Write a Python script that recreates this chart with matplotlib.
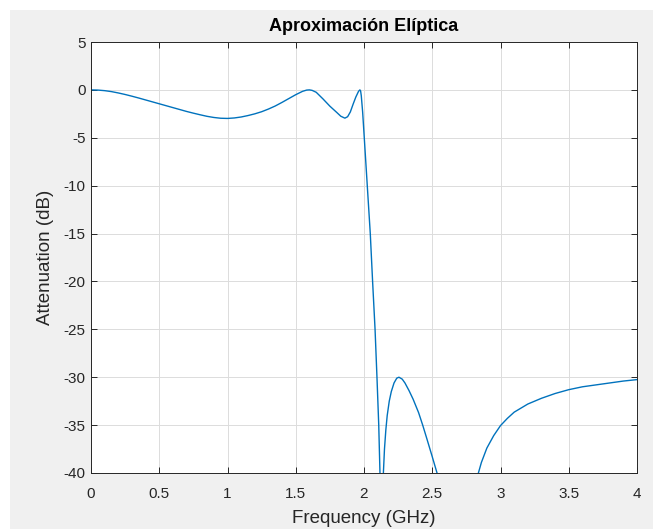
import matplotlib
matplotlib.use("Agg")
import matplotlib.pyplot as plt
from matplotlib.patches import Rectangle

# values (GHz, dB)
freq_ghz = [0.0, 0.05, 0.1, 0.15, 0.2, 0.25, 0.3, 0.35, 0.4, 0.45, 0.5, 0.55,
            0.6, 0.65, 0.7, 0.75, 0.8, 0.85, 0.9, 0.95, 1.0, 1.05, 1.1, 1.15,
            1.2, 1.25, 1.3, 1.35, 1.4, 1.45, 1.5, 1.55, 1.58, 1.6, 1.62, 1.65,
            1.7, 1.75, 1.8, 1.83, 1.86, 1.88, 1.9, 1.92, 1.94, 1.96, 1.97, 1.975,
            1.98, 1.99, 2.002, 2.024, 2.046, 2.063, 2.081, 2.095, 2.108, 2.117,
            2.13, 2.142, 2.15, 2.16, 2.17, 2.185, 2.2, 2.22, 2.24, 2.256, 2.28,
            2.3, 2.33, 2.36, 2.4, 2.43, 2.46, 2.5, 2.535, 2.58, 2.7, 2.8, 2.838,
            2.86, 2.9, 2.95, 3.0, 3.05, 3.1, 3.2, 3.3, 3.4, 3.5, 3.6, 3.7, 3.8, 3.9, 4.0]
atten_db = [0.0, -0.02, -0.08, -0.18, -0.32, -0.48, -0.66, -0.85, -1.05, -1.25, -1.45, -1.65,
            -1.85, -2.05, -2.25, -2.43, -2.6, -2.76, -2.88, -2.96, -2.98, -2.93, -2.83, -2.68,
            -2.5, -2.28, -2.0, -1.68, -1.3, -0.9, -0.5, -0.15, -0.02, 0.0, -0.05, -0.25,
            -0.95, -1.7, -2.35, -2.75, -2.95, -2.8, -2.3, -1.5, -0.75, -0.15, 0.0, -0.1,
            -0.6, -2.3, -5.0, -10.0, -15.0, -20.0, -25.0, -30.0, -35.0, -40.0,
            -60.0, -40.0, -37.5, -35.5, -34.0, -32.5, -31.5, -30.6, -30.1, -30.0, -30.2,
            -30.6, -31.4, -32.3, -33.7, -35.0, -36.4, -38.3, -40.0, -43.0, -60.0, -44.0, -40.0,
            -38.9, -37.4, -36.1, -35.05, -34.3, -33.65, -32.8, -32.2, -31.7, -31.3, -31.0, -30.8, -30.6, -30.4, -30.25]

x_ticks = [0, 0.5, 1, 1.5, 2, 2.5, 3, 3.5, 4]
x_tick_labels = ["0", "0.5", "1", "1.5", "2", "2.5", "3", "3.5", "4"]
y_ticks = [5, 0, -5, -10, -15, -20, -25, -30, -35, -40]
y_tick_labels = ["5", "0", "-5", "-10", "-15", "-20", "-25", "-30", "-35", "-40"]

plt.rcParams["font.family"] = ["Liberation Sans", "DejaVu Sans"]

W, H = 653, 529
fig = plt.figure(figsize=(W / 100, H / 100), dpi=100, facecolor="white")
# grey window background, small white strip left and top like the screenshot
fig.patches.append(Rectangle((10 / W, 0), 1 - 10 / W, 1 - 10 / H, transform=fig.transFigure,
                             facecolor="#f0f0f0", edgecolor="none", zorder=-1))

ax = fig.add_axes([91 / W, (H - 473) / H, 546 / W, 431 / H])
ax.set_facecolor("white")
ax.plot(freq_ghz, atten_db, color="#0072BD", lw=1.0)

ax.set_xlim(0, 4)
ax.set_ylim(-40, 5)
ax.set_xticks(x_ticks)
ax.set_xticklabels(x_tick_labels)
ax.set_yticks(y_ticks)
ax.set_yticklabels(y_tick_labels)
ax.grid(True, color="#dcdcdc", lw=0.7)
ax.set_axisbelow(True)

ax.tick_params(direction="in", top=True, right=True, length=4, width=0.7,
               color="#262626", labelcolor="#262626", labelsize=11)
ax.tick_params(axis="x", pad=10)
ax.tick_params(axis="y", pad=4)
for sp in ax.spines.values():
    sp.set_color("#262626")
    sp.set_linewidth(0.7)

ax.set_title("Aproximación Elíptica", fontsize=13, fontweight="bold", color="black", pad=8)
ax.set_xlabel("Frequency (GHz)", fontsize=13.5, color="#262626", labelpad=6.5)
ax.set_ylabel("Attenuation (dB)", fontsize=13.5, color="#262626", labelpad=7)

fig.savefig("out.png", dpi=100, facecolor=fig.get_facecolor())
